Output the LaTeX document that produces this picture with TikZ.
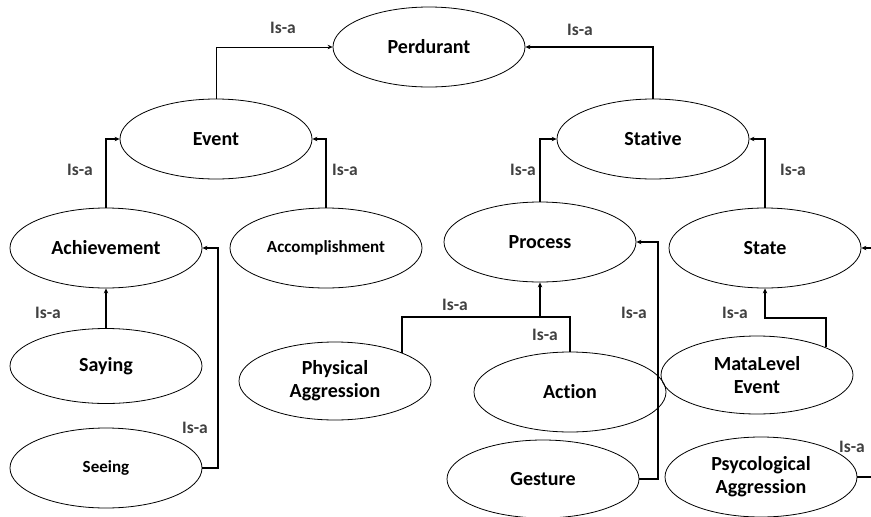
\documentclass[tikz,border=0pt]{standalone}
\usepackage{fontspec}
\setmainfont{Carlito}[Ligatures=NoCommon]
\usetikzlibrary{shapes.geometric, arrows.meta, calc}

\begin{document}
\begin{tikzpicture}[
    x=1pt, y=-1pt,
    >={Stealth[length=5pt, width=4.5pt]},
    concept/.style={draw, ellipse, minimum width=192pt, minimum height=80pt, inner sep=0pt,
        line width=0.8pt, align=center, font=\bfseries\fontsize{20}{23}\selectfont},
    smallconcept/.style={concept, font=\bfseries\fontsize{17}{20}\selectfont},
    isa/.style={->, line width=2pt},
    isalabel/.style={font=\bfseries\fontsize{17.5}{20}\selectfont, text=black!75}
]

    % Frame of the picture (the last link runs off the right edge)
    \useasboundingbox (0,0) rectangle (871,517);
    \clip (0,0) rectangle (871,517);

    % Top levels
    \node[concept] (perdurant) at (429,47) {Perdurant};
    \node[concept] (event) at (216,139) {Event};
    \node[concept] (stative) at (653,139) {Stative};

    % Middle level
    \node[concept] (achievement) at (106,248) {Achievement};
    \node[smallconcept] (accomplishment) at (326,248) {Accomplishment};
    \node[concept] (process) at (540,242) {Process};
    \node[concept] (state) at (765,248) {State};

    % Leaves
    \node[concept, minimum height=75pt] (saying) at (106,366) {Saying};
    \node[smallconcept] (seeing) at (106,468) {Seeing};
    \node[concept, minimum height=78pt] (physical) at (335,381) {Physical\\Aggression};
    \node[concept] (action) at (570,392) {Action};
    \node[concept, minimum height=78pt] (matalevel) at (757,375) {MataLevel\\Event};
    \node[concept, minimum height=78pt] (gesture) at (543,479) {Gesture};
    \node[concept] (psyco) at (761,477) {Psycological\\Aggression};

    % Is-a links to Perdurant
    \draw[->, line width=0.9pt] (event.north) |- (perdurant.west);
    \draw[isa] (stative.north) |- (perdurant.east);
    \node[isalabel] (l1) at (283,28) {Is-a};
    \node[isalabel] (l2) at (580,30) {Is-a};

    % Event and Stative
    \draw[isa] (achievement.north) |- (event.west);
    \draw[isa] (accomplishment.north) |- (event.east);
    \draw[isa] (process.north) |- (stative.west);
    \draw[isa] (state.north) |- (stative.east);
    \node[isalabel] (l3) at (80,170) {Is-a};
    \node[isalabel] (l4) at (345,170) {Is-a};
    \node[isalabel] (l5) at (523,170) {Is-a};
    \node[isalabel] (l6) at (793,170) {Is-a};

    % Achievement
    \draw[isa] (saying.north) -- (achievement.south);
    \draw[isa] (seeing.east) -- ++(16,0) |- (achievement.east);
    \node[isalabel] (l7) at (48,313) {Is-a};
    \node[isalabel] (l8) at (195,428) {Is-a};

    % Process
    \coordinate (pjoin) at (540,317);
    \draw[line width=2pt] (physical.23) |- (pjoin) -| (action.north);
    \draw[isa] (pjoin) -- (process.south);
    \draw[isa] (gesture.east) -- ++(19,0) |- (process.east);
    \node[isalabel] (l9) at (455,305) {Is-a};
    \node[isalabel] (l10) at (545,335) {Is-a};
    \node[isalabel] (l11) at (634,313) {Is-a};

    % State
    \draw[isa] (matalevel.22) |- ($(state.south)+(0,30)$) -- (state.south);
    \draw[isa] (psyco.east) -- ++(30,0) |- (state.east);
    \node[isalabel] (l12) at (735,313) {Is-a};
    \node[isalabel] (l13) at (852,447) {Is-a};

\end{tikzpicture}
\end{document}
